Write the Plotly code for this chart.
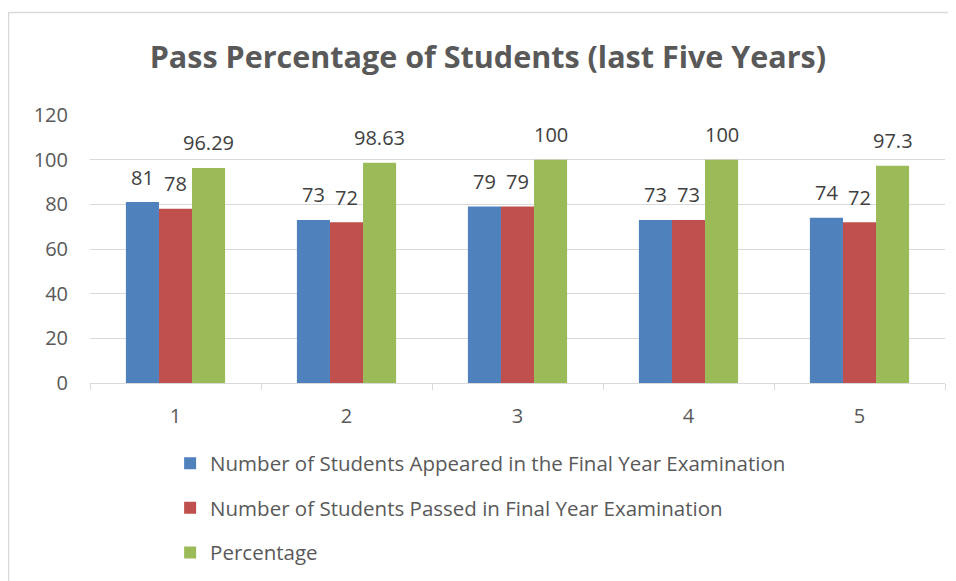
import plotly.graph_objects as go

categories = ["1", "2", "3", "4", "5"]
appeared = [81, 73, 79, 73, 74]
passed = [78, 72, 79, 73, 72]
percentage = [96.29, 98.63, 100, 100, 97.3]
percentage_labels = ["96.29", "98.63", "100", "100", "97.3"]
y_ticks = [0, 20, 40, 60, 80, 100, 120]

series = [
    ("Number of Students Appeared in the Final Year Examination", appeared, [str(v) for v in appeared], "#4F81BD"),
    ("Number of Students Passed in Final Year Examination", passed, [str(v) for v in passed], "#C0504D"),
    ("Percentage", percentage, percentage_labels, "#9BBB59"),
]

FONT = "Open Sans"
fig = go.Figure()
bar_px = 33
for i, (name, vals, labels, color) in enumerate(series):
    fig.add_trace(go.Bar(
        x=categories, y=vals, name=name,
        marker=dict(color=color, line=dict(width=0)),
        legendgroup=f"g{i}",
    ))
    for j, (v, t) in enumerate(zip(vals, labels)):
        # category axis: annotation x given as the category's index
        fig.add_annotation(x=j, y=v, text=t, showarrow=False,
                           xshift=(i - 1) * bar_px, yshift=25, yanchor="middle",
                           font=dict(size=20, color="#404040", family=FONT))

fig.update_layout(
    width=956, height=581,
    barmode="group", bargap=0.42, bargroupgap=0,
    plot_bgcolor="white", paper_bgcolor="white",
    margin=dict(l=82, r=19, t=107, b=206),
    font=dict(family=FONT, color="#595959", size=20),
    title=dict(text="<b>Pass Percentage of Students (last Five Years)</b>",
               x=0.502, xanchor="center", y=0.9157, yanchor="middle",
               font=dict(size=30.5, color="#595959", family=FONT)),
    showlegend=True,
    legend=dict(orientation="v", x=0.0937, xanchor="left", y=-0.225, yanchor="top",
                font=dict(size=20.5, color="#595959", family=FONT),
                tracegroupgap=15, bgcolor="rgba(0,0,0,0)"),
)
fig.update_yaxes(range=[0, 120], tickvals=y_ticks, showgrid=True, gridcolor="#D9D9D9",
                 gridwidth=1, zeroline=False, showline=False, ticks="",
                 tickfont=dict(size=20, color="#595959"), ticklabelstandoff=21)
fig.update_xaxes(type="category", categoryorder="array", categoryarray=categories,
                 showline=True, linecolor="#D9D9D9", linewidth=1, ticks="outside",
                 tickson="boundaries", ticklen=6, tickcolor="#D9D9D9",
                 tickfont=dict(size=20, color="#595959"), ticklabelstandoff=15)
fig.add_shape(type="rect", xref="paper", yref="paper",
              x0=(0.5 - 82) / 855, x1=1.1, y0=-1.0, y1=1 + (107 - 4.5) / 268,
              line=dict(color="#D9D9D9", width=1.5), layer="below")

fig.write_html("out.html")
